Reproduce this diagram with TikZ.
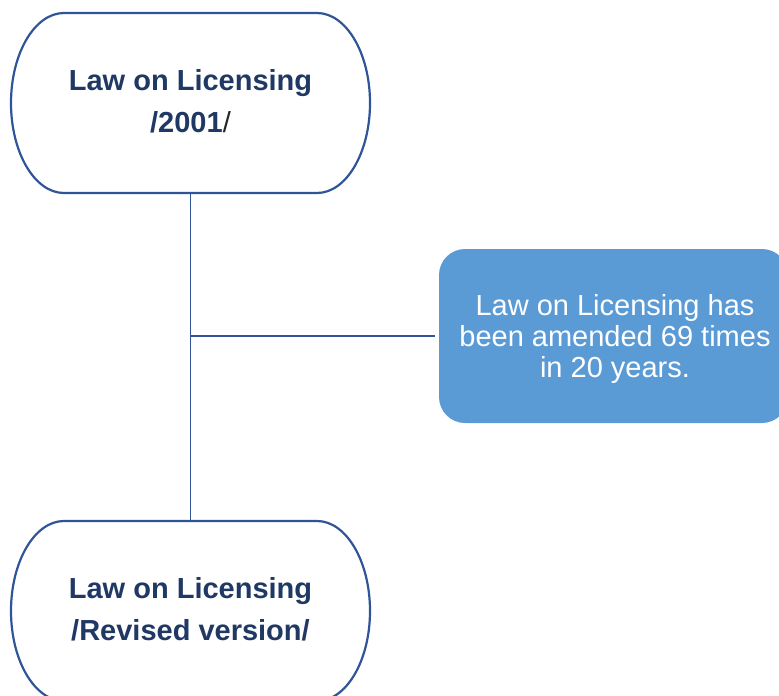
\documentclass[tikz,border=0pt]{standalone}
\usepackage{fontspec}
\setmainfont{Liberation Sans}
\definecolor{edgeblue}{HTML}{2F5597}
\definecolor{navy}{HTML}{203864}
\definecolor{fillblue}{HTML}{5B9BD5}
\tikzset{
  lawbox/.style={minimum width=359pt, minimum height=180pt, inner sep=0pt},
  lawtext/.style={inner sep=0pt, align=center, text=navy, font=\fontsize{29}{42}\selectfont\bfseries},
  notebox/.style={fill=fillblue, rounded corners=26pt, minimum width=349pt, minimum height=174pt,
    inner sep=0pt},
  notetext/.style={inner sep=0pt, align=center, text=white, font=\fontsize{29}{31}\selectfont},
  outline/.style={draw=edgeblue, line width=2.2pt, line join=round},
  link/.style={draw=edgeblue, line width=1.4pt}
}
\begin{document}
\begin{tikzpicture}[x=1pt,y=-1pt]
\useasboundingbox (0,0) rectangle (779,696);
\clip (0,0) rectangle (779,696);
% top node
\node[lawbox] (top) at (190.5,103) {};
\node[lawtext] (toptext) at (190.5,101) {Law on Licensing\\/2001{\mdseries\color{black!85}/}};
\draw[outline] (64,13) -- (317,13)
  arc[start angle=90, end angle=-90, x radius=53pt, y radius=90pt]
  -- (64,193)
  arc[start angle=270, end angle=90, x radius=53pt, y radius=90pt] -- cycle;
% bottom node
\node[lawbox] (bot) at (190.5,611) {};
\node[lawtext] (bottext) at (190.5,609) {Law on Licensing\\/Revised version/};
\draw[outline] (64,521) -- (317,521)
  arc[start angle=90, end angle=-90, x radius=53pt, y radius=90pt]
  -- (64,701)
  arc[start angle=270, end angle=90, x radius=53pt, y radius=90pt] -- cycle;
% note box
\node[notebox] (note) at (613.5,336) {};
\node[notetext] (notetext) at (615,339) {Law on Licensing has\\been amended 69 times\\in 20 years.};
% connectors
\coordinate (junc) at (190.5,336);
\draw[link] (top.south) -- (bot.north);
\draw[link] (junc) -- ([xshift=-4pt]note.west);
\end{tikzpicture}
\end{document}
